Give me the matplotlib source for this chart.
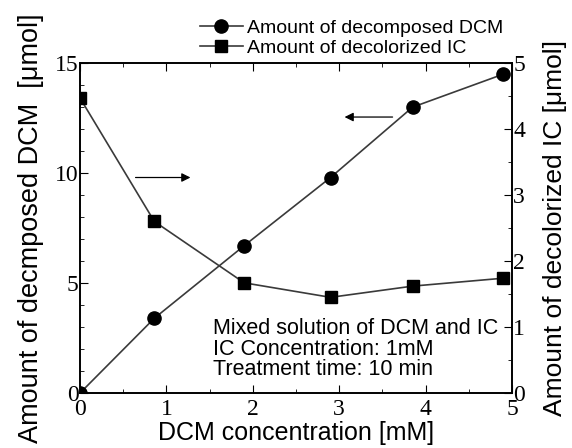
import matplotlib
matplotlib.use("Agg")
from matplotlib import pyplot as plt
from matplotlib.ticker import MultipleLocator

# data
dcm_conc = [0, 0.86, 1.9, 2.9, 3.85, 4.9]
dcm_decomposed = [0, 3.4, 6.7, 9.8, 13.0, 14.5]
ic_decolorized = [4.47, 2.6, 1.67, 1.45, 1.62, 1.74]

serif = "Liberation Serif"
sans = "Liberation Sans"
line_col = "#3a3a3a"

fig = plt.figure(figsize=(5.72, 4.48), dpi=100)
ax = fig.add_axes([0.14, 0.1228, 0.755, 0.7362])
ax2 = ax.twinx()

l1, = ax.plot(dcm_conc, dcm_decomposed, "-o", color=line_col, lw=1.2,
              mfc="black", mec="black", ms=9.5, label="Amount of decomposed DCM")
l2, = ax2.plot(dcm_conc, ic_decolorized, "-s", color=line_col, lw=1.2,
               mfc="black", mec="black", ms=9, label="Amount of decolorized IC")

ax.set_xlim(0, 5)
ax.set_ylim(0, 15)
ax2.set_ylim(0, 5)
ax.xaxis.set_major_locator(MultipleLocator(1))
ax.xaxis.set_minor_locator(MultipleLocator(0.5))
ax.yaxis.set_major_locator(MultipleLocator(5))
ax.yaxis.set_minor_locator(MultipleLocator(1))
ax2.yaxis.set_major_locator(MultipleLocator(1))
ax2.yaxis.set_minor_locator(MultipleLocator(0.5))

for a in (ax, ax2):
    for s in a.spines.values():
        s.set_linewidth(1.2)
ax.tick_params(which="both", direction="in", top=True, labelsize=17)
ax.tick_params(which="major", length=6)
ax.tick_params(which="minor", length=3)
ax2.tick_params(which="both", direction="in", labelsize=17)
ax2.tick_params(which="major", length=6)
ax2.tick_params(which="minor", length=3)
for lab in ax.get_xticklabels() + ax.get_yticklabels() + ax2.get_yticklabels():
    lab.set_family(serif)
ax.tick_params(axis="x", pad=4)
ax.tick_params(axis="y", pad=1)
ax2.tick_params(axis="y", pad=1)

ax.set_xlabel("DCM concentration [mM]", family=sans, fontsize=18, labelpad=1)
ax.set_ylabel("Amount of decmposed DCM  [\u03bcmol]", family=sans, fontsize=19.5, labelpad=8)
ax2.set_ylabel("Amount of decolorized IC [\u03bcmol]", family=sans, fontsize=19, labelpad=13)

fig.legend(handles=[l1, l2], loc="center left", bbox_to_anchor=(200 / 572, 1 - 38 / 448),
           frameon=False, prop={"family": sans, "size": 14},
           handlelength=2.2, handletextpad=0.2, labelspacing=0.15,
           borderpad=0, borderaxespad=0)

# arrows pointing to the relevant axis
ax.annotate("", xy=(3.03, 12.55), xytext=(3.65, 12.55),
            arrowprops=dict(arrowstyle="-|>", color="black", lw=0.9, mutation_scale=13))
ax.annotate("", xy=(1.31, 9.8), xytext=(0.61, 9.8),
            arrowprops=dict(arrowstyle="-|>", color="black", lw=0.9, mutation_scale=13))

ax.text(1.54, 2.0, "Mixed solution of DCM and IC\nIC Concentration: 1mM\nTreatment time: 10 min",
        family=sans, fontsize=15.5, va="center", ha="left", linespacing=0.95)

fig.savefig("out.png", dpi=100)
